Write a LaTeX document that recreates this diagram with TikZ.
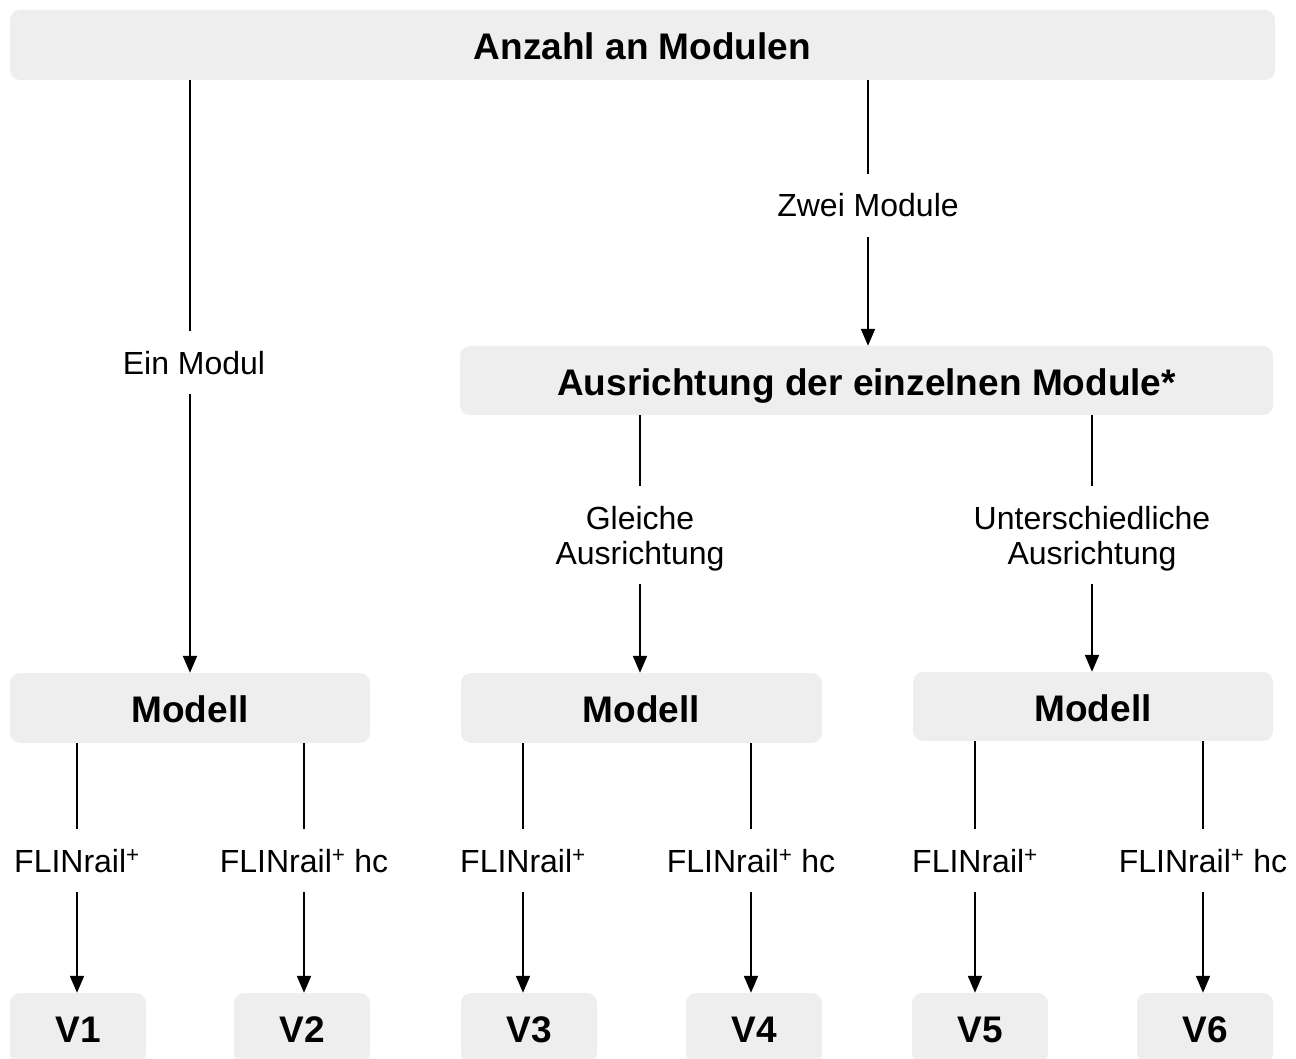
\documentclass[tikz,border=0pt]{standalone}
\usepackage{fontspec}
\setmainfont{Liberation Sans}
\usetikzlibrary{arrows.meta}

\definecolor{boxgray}{HTML}{EEEEEE}
\newcommand{\plussup}{\textsuperscript{+}}

\tikzset{
  box/.style={fill=boxgray, rounded corners=10pt, minimum height=70pt,
    text height=29.5pt, text depth=0pt, font=\fontsize{37}{44}\selectfont\bfseries},
  lbl/.style={inner xsep=2pt, inner ysep=20pt, text height=23pt, text depth=0pt,
    font=\fontsize{32}{35}\selectfont},
  lbltwo/.style={inner xsep=2pt, inner ysep=20pt, text depth=0pt, align=center,
    font=\fontsize{32}{35}\selectfont},
  conn/.style={line width=2pt},
  arr/.style={conn, -{Triangle[length=17pt,width=14pt]}}
}

\begin{document}
\begin{tikzpicture}[x=1pt,y=-1pt]
  \useasboundingbox (0,0) rectangle (1296,1059);
  \clip (0,0) rectangle (1296,1059);

  % boxes
  \node[box, minimum width=1265pt] (anzahl) at (642.5,45) {Anzahl an Modulen};
  \node[box, minimum width=813pt, minimum height=69pt] (ausr) at (866.5,380.5) {Ausrichtung der einzelnen Module*};
  \node[box, minimum width=360pt] (modA) at (190,708) {Modell};
  \node[box, minimum width=361pt] (modB) at (641.5,708) {Modell};
  \node[box, minimum width=360pt, minimum height=69pt] (modC) at (1093,706.5) {Modell};
  \foreach \n/\x in {1/78,2/302,3/529,4/754,5/980,6/1205}
    \node[box, minimum width=136pt] (v\n) at (\x,1028) {V\n};

  % labels
  \node[lbl] (ein) at (194,362.5) {Ein Modul};
  \node[lbl] (zwei) at (868,205.5) {Zwei Module};
  \node[lbltwo] (gleich) at (640,535) {Gleiche\\Ausrichtung};
  \node[lbltwo] (unter) at (1092,535) {Unterschiedliche\\Ausrichtung};
  \node[lbl] (fl1) at (77,860.5) {FLINrail\plussup};
  \node[lbl] (fl2) at (304,860.5) {FLINrail\plussup{} hc};
  \node[lbl] (fl3) at (523,860.5) {FLINrail\plussup};
  \node[lbl] (fl4) at (751,860.5) {FLINrail\plussup{} hc};
  \node[lbl] (fl5) at (975,860.5) {FLINrail\plussup};
  \node[lbl] (fl6) at (1203,860.5) {FLINrail\plussup{} hc};

  % connectors
  \draw[conn] (anzahl.south -| modA) -- (ein.north -| modA);
  \draw[arr] (ein.south -| modA) -- (modA);
  \draw[conn] (anzahl.south -| zwei) -- (zwei);
  \draw[arr] (zwei) -- (zwei |- ausr.north);
  \draw[conn] (ausr.south -| gleich) -- (gleich);
  \draw[arr] (gleich) -- (gleich |- modB.north);
  \draw[conn] (ausr.south -| unter) -- (unter);
  \draw[arr] (unter) -- (unter |- modC.north);

  \foreach \m/\a/\b in {modA/1/2,modB/3/4,modC/5/6} {
    \draw[conn] (\m.south -| fl\a) -- (fl\a);
    \draw[arr] (fl\a) -- (fl\a |- v\a.north);
    \draw[conn] (\m.south -| fl\b) -- (fl\b);
    \draw[arr] (fl\b) -- (fl\b |- v\b.north);
  }
\end{tikzpicture}
\end{document}
